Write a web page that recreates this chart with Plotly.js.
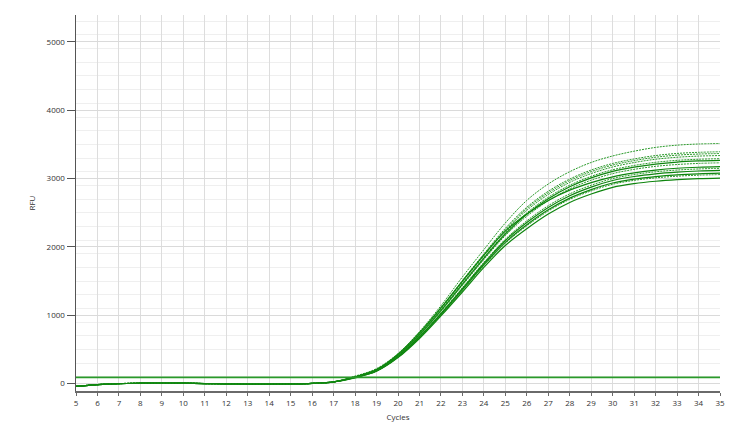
<!DOCTYPE html>
<html>
<head>
<meta charset="utf-8">
<script src="https://cdn.plot.ly/plotly-3.0.1.min.js"></script>
<style>
  html, body { margin: 0; padding: 0; background: #ffffff; }
  #chart { width: 751px; height: 439px; }
</style>
</head>
<body>
<div id="chart"></div>
<script>
// ---- Data ----
const cycles = [5,6,7,8,9,10,11,12,13,14,15,16,17,18,19,20,21,22,23,24,25,26,27,28,29,30,31,32,33,34,35];

// common baseline, cycles 5-17
const baseline = [-40,-15,0,6,9,6,1,-3,-6,-7,-5,3,25];

// per-well growth phase, cycles 18-35
const well01 = [110,220,440,760,1140,1560,1960,2350,2680,2920,3100,3235,3330,3400,3455,3488,3505,3513];
const well02 = [104,210,426,736,1104,1507,1898,2271,2580,2814,2992,3124,3220,3286,3336,3367,3383,3392];
const well03 = [103,208,423,731,1097,1496,1885,2254,2560,2792,2970,3101,3197,3262,3311,3342,3358,3366];
const well04 = [101,206,419,725,1088,1483,1869,2235,2535,2766,2943,3073,3169,3234,3282,3311,3328,3336];
const well05 = [99,202,414,716,1074,1463,1846,2205,2497,2726,2902,3032,3128,3191,3237,3266,3282,3290];
const well06 = [98,200,411,711,1067,1452,1833,2188,2477,2704,2880,3009,3105,3167,3212,3241,3257,3265];
const well07 = [96,198,406,704,1056,1437,1814,2165,2448,2674,2848,2976,3072,3134,3178,3205,3221,3230];
const well08 = [100,205,430,745,1110,1500,1880,2230,2480,2680,2830,2940,3025,3082,3123,3150,3165,3174];
const well09 = [92,191,397,688,1032,1402,1773,2112,2381,2603,2776,2902,2999,3058,3099,3124,3140,3149];
const well10 = [91,189,393,682,1023,1388,1757,2093,2356,2577,2749,2875,2971,3030,3069,3094,3110,3118];
const well11 = [89,186,388,674,1011,1371,1736,2066,2323,2542,2713,2838,2934,2992,3029,3054,3069,3078];
const well12 = [88,184,386,670,1005,1362,1726,2053,2307,2524,2695,2819,2916,2973,3010,3034,3049,3058];
const well13 = [85,180,380,660,990,1340,1700,2020,2265,2480,2650,2773,2870,2925,2960,2983,2998,3007];

const wellNames = ["A1","A2","A3","A4","A5","A6","B1","B2","B3","B4","B5","B6","C1"];
const wellData = [well01,well02,well03,well04,well05,well06,well07,well08,well09,well10,well11,well12,well13];
const wellSolid = [false,false,false,false,false,true,false,true,false,true,true,false,true];

const thresholdX = [5, 35];
const threshold = 90;

const yTickVals = [0,1000,2000,3000,4000,5000];
const yTickText = ["0","1000","2000","3000","4000","5000"];
const xTickVals = cycles;

// ---- Traces ----
const traces = wellData.map(function (g, i) {
  const solid = wellSolid[i];
  return {
    type: 'scatter',
    mode: 'lines',
    name: wellNames[i],
    x: cycles,
    y: baseline.concat(g),
    line: {
      color: solid ? '#0e850e' : '#2a9a2a',
      width: solid ? 1.2 : 1,
      dash: solid ? 'solid' : '2px,1px',
      shape: 'spline',
      smoothing: 1
    },
    hoverinfo: 'skip',
    showlegend: false
  };
});

traces.push({
  type: 'scatter',
  mode: 'lines',
  name: 'Threshold',
  x: thresholdX,
  y: [threshold, threshold],
  line: { color: '#2a9a2a', width: 1.8 },
  hoverinfo: 'skip',
  showlegend: false
});

const tickFont = { family: 'Open Sans, DejaVu Sans, sans-serif', size: 8, color: '#333333' };

const layout = {
  width: 751,
  height: 439,
  margin: { l: 76, r: 31, t: 15, b: 48, pad: 0 },
  paper_bgcolor: '#ffffff',
  plot_bgcolor: '#ffffff',
  showlegend: false,
  hovermode: false,
  xaxis: {
    range: [5, 35],
    tickmode: 'array',
    tickvals: xTickVals,
    ticktext: xTickVals.map(String),
    showgrid: true,
    gridcolor: '#dddddd',
    gridwidth: 1,
    zeroline: false,
    showline: true,
    linecolor: '#6a6a6a',
    linewidth: 2,
    ticks: 'outside',
    ticklen: 3,
    tickcolor: '#6a6a6a',
    tickfont: tickFont,
    title: { text: 'Cycles', font: tickFont, standoff: 8 }
  },
  yaxis: {
    range: [-108, 5392],
    tickmode: 'array',
    tickvals: yTickVals,
    ticktext: yTickText,
    showgrid: true,
    gridcolor: '#dadada',
    gridwidth: 1,
    minor: { dtick: 200, tick0: 100, showgrid: true, gridcolor: '#efefef', gridwidth: 1, ticks: '' },
    zeroline: false,
    showline: true,
    linecolor: '#555555',
    linewidth: 1.5,
    ticks: 'outside',
    ticklen: 8,
    tickcolor: '#555555',
    tickfont: tickFont,
    title: { text: 'RFU', font: tickFont, standoff: 10 }
  }
};

Plotly.newPlot('chart', traces, layout, { displayModeBar: false, staticPlot: true });
</script>
</body>
</html>
